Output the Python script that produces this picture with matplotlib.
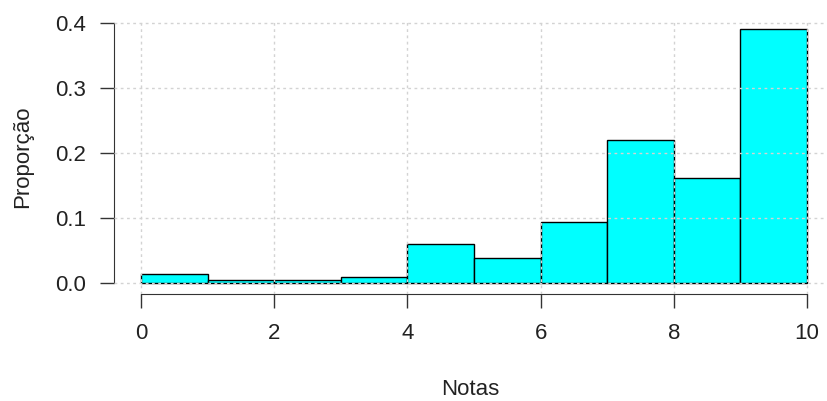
import matplotlib
matplotlib.use('Agg')
import matplotlib.pyplot as plt
import numpy as np

# Histogram data: bin edges and proportion per bin
bin_edges = [0, 1, 2, 3, 4, 5, 6, 7, 8, 9, 10]
proportions = [0.0134, 0.0046, 0.0046, 0.0088, 0.0605, 0.039, 0.094, 0.220, 0.161, 0.390]
x_ticks = [0, 2, 4, 6, 8, 10]
y_ticks = [0.0, 0.1, 0.2, 0.3, 0.4]
y_tick_labels = ['0.0', '0.1', '0.2', '0.3', '0.4']

plt.rcParams['font.family'] = ['Liberation Sans', 'DejaVu Sans']

fig = plt.figure(figsize=(8.27, 4.01), dpi=100)
W, H = 827, 401
# axes box in pixels: left 114, right 827, top 20, bottom 294
ax = fig.add_axes([114 / W, (H - 294) / H, (827 - 114) / W, (294 - 20) / H])

lefts = np.array(bin_edges[:-1])
widths = np.diff(bin_edges)
ax.bar(lefts, proportions, width=widths, align='edge', color='#00FFFF',
       edgecolor='black', linewidth=1.0, zorder=2)

ax.set_xlim(-0.405, 10.30)
ax.set_ylim(-0.0169, 0.4046)

# grid drawn over the bars, like R's grid()
for x in x_ticks:
    ax.axvline(x, color='#d3d3d3', linewidth=1.0, dashes=(2, 2.5), zorder=3)
for y in y_ticks:
    ax.axhline(y, color='#d3d3d3', linewidth=1.0, dashes=(2, 2.5), zorder=3)

# R-style axes
ax.spines['top'].set_visible(False)
ax.spines['right'].set_visible(False)
ax.spines['left'].set_bounds(0, 0.4)
ax.spines['bottom'].set_bounds(0, 10)
ax.spines['left'].set_color('#333333')
ax.spines['bottom'].set_color('#333333')

ax.set_xticks(x_ticks)
ax.set_yticks(y_ticks)
ax.set_yticklabels(y_tick_labels)
ax.tick_params(axis='both', length=10, width=1, color='#333333',
               labelsize=16, labelcolor='#222222')
ax.tick_params(axis='x', pad=11)
ax.tick_params(axis='y', pad=10)

ax.set_xlabel('Notas', fontsize=16, color='#222222', labelpad=25)
ax.set_ylabel('Proporção', fontsize=16, color='#222222', labelpad=16)

fig.savefig('out.png', dpi=100)
